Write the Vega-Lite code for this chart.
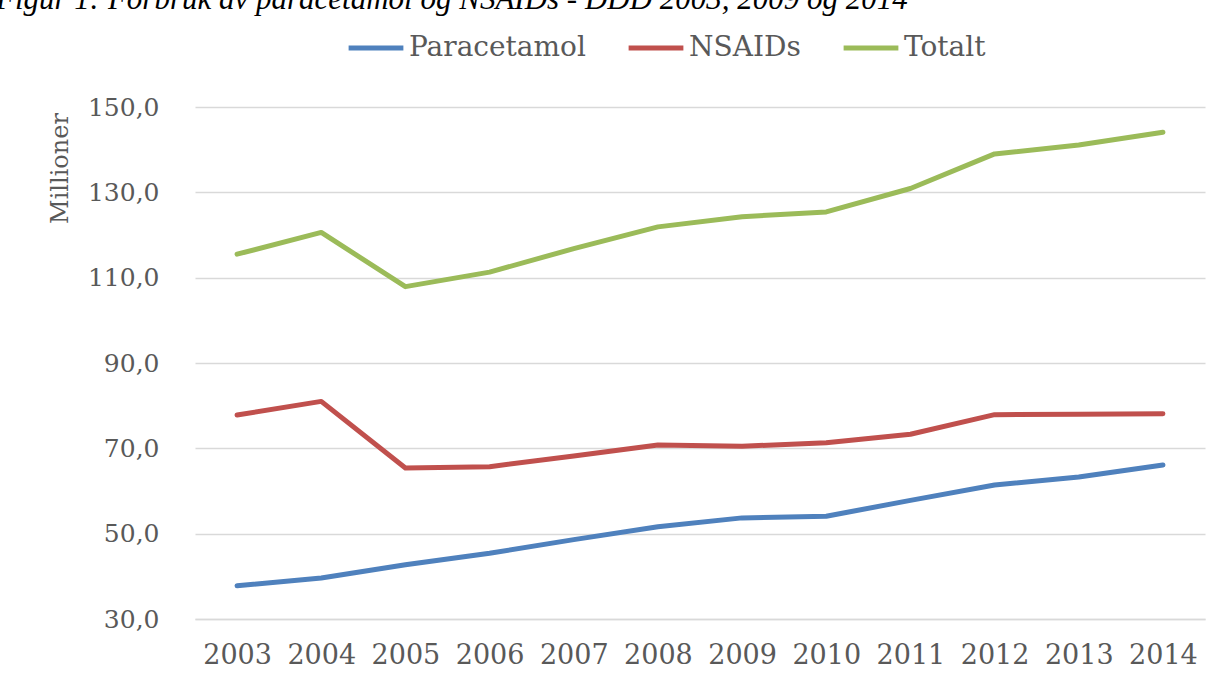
{
  "$schema": "https://vega.github.io/schema/vega-lite/v6.json",
  "width": 1010,
  "height": 512,
  "autosize": {"type": "none"},
  "padding": {"left": 195, "top": 107, "right": 24, "bottom": 60},
  "background": "white",
  "title": {
    "text": "Figur 1: Forbruk av paracetamol og NSAIDs - DDD 2003, 2009 og 2014",
    "anchor": "start",
    "frame": "group",
    "font": "Liberation Serif",
    "fontStyle": "italic",
    "fontWeight": "normal",
    "fontSize": 31,
    "color": "#000000",
    "baseline": "alphabetic",
    "orient": "top",
    "offset": -22,
    "dx": -199
  },
  "data": {
    "values": [
      {"year": "2003", "serie": "Paracetamol", "value": 37.8},
      {"year": "2004", "serie": "Paracetamol", "value": 39.6},
      {"year": "2005", "serie": "Paracetamol", "value": 42.7},
      {"year": "2006", "serie": "Paracetamol", "value": 45.4},
      {"year": "2007", "serie": "Paracetamol", "value": 48.6},
      {"year": "2008", "serie": "Paracetamol", "value": 51.6},
      {"year": "2009", "serie": "Paracetamol", "value": 53.7},
      {"year": "2010", "serie": "Paracetamol", "value": 54.1},
      {"year": "2011", "serie": "Paracetamol", "value": 57.8},
      {"year": "2012", "serie": "Paracetamol", "value": 61.4},
      {"year": "2013", "serie": "Paracetamol", "value": 63.3},
      {"year": "2014", "serie": "Paracetamol", "value": 66.1},
      {"year": "2003", "serie": "NSAIDs", "value": 77.8},
      {"year": "2004", "serie": "NSAIDs", "value": 81.0},
      {"year": "2005", "serie": "NSAIDs", "value": 65.4},
      {"year": "2006", "serie": "NSAIDs", "value": 65.7},
      {"year": "2007", "serie": "NSAIDs", "value": 68.2},
      {"year": "2008", "serie": "NSAIDs", "value": 70.8},
      {"year": "2009", "serie": "NSAIDs", "value": 70.5},
      {"year": "2010", "serie": "NSAIDs", "value": 71.3},
      {"year": "2011", "serie": "NSAIDs", "value": 73.3},
      {"year": "2012", "serie": "NSAIDs", "value": 77.9},
      {"year": "2013", "serie": "NSAIDs", "value": 78.0},
      {"year": "2014", "serie": "NSAIDs", "value": 78.1},
      {"year": "2003", "serie": "Totalt", "value": 115.5},
      {"year": "2004", "serie": "Totalt", "value": 120.6},
      {"year": "2005", "serie": "Totalt", "value": 107.9},
      {"year": "2006", "serie": "Totalt", "value": 111.3},
      {"year": "2007", "serie": "Totalt", "value": 116.8},
      {"year": "2008", "serie": "Totalt", "value": 121.9},
      {"year": "2009", "serie": "Totalt", "value": 124.3},
      {"year": "2010", "serie": "Totalt", "value": 125.4},
      {"year": "2011", "serie": "Totalt", "value": 130.9},
      {"year": "2012", "serie": "Totalt", "value": 139.0},
      {"year": "2013", "serie": "Totalt", "value": 141.1},
      {"year": "2014", "serie": "Totalt", "value": 144.1}
    ]
  },
  "mark": {"type": "line", "strokeWidth": 5, "strokeCap": "round", "strokeJoin": "round"},
  "encoding": {
    "x": {
      "field": "year",
      "type": "ordinal",
      "scale": {"type": "point", "padding": 0.5},
      "axis": {
        "title": null,
        "labelAngle": 0,
        "labelFont": "DejaVu Serif",
        "labelFontSize": 27,
        "labelColor": "#595959",
        "labelPadding": 23,
        "ticks": false,
        "domain": true,
        "domainColor": "#d9d9d9",
        "domainWidth": 1.5,
        "grid": false
      }
    },
    "y": {
      "field": "value",
      "type": "quantitative",
      "scale": {"domain": [30, 150], "nice": false, "zero": false},
      "axis": {
        "title": "Millioner",
        "titleFont": "DejaVu Serif",
        "titleFontSize": 24,
        "titleFontWeight": "normal",
        "titleColor": "#595959",
        "titleX": -135,
        "titleY": 61,
        "titleAlign": "center",
        "titleBaseline": "middle",
        "values": [30, 50, 70, 90, 110, 130, 150],
        "labelExpr": "replace(format(datum.value, '.1f'), '.', ',')",
        "labelFont": "DejaVu Serif",
        "labelFontSize": 25,
        "labelColor": "#595959",
        "labelPadding": 36,
        "ticks": false,
        "domain": false,
        "grid": true,
        "gridColor": "#d9d9d9",
        "gridWidth": 1.5
      }
    },
    "color": {
      "field": "serie",
      "type": "nominal",
      "sort": ["Paracetamol", "NSAIDs", "Totalt"],
      "scale": {"domain": ["Paracetamol", "NSAIDs", "Totalt"], "range": ["#4f81bd", "#c0504d", "#9bbb59"]},
      "legend": {
        "title": null,
        "orient": "none",
        "direction": "horizontal",
        "legendX": 151,
        "legendY": -89,
        "symbolType": "stroke",
        "symbolSize": 3000,
        "symbolStrokeWidth": 5,
        "labelFont": "DejaVu Serif",
        "labelFontSize": 28,
        "labelColor": "#595959",
        "labelOffset": 3,
        "columnPadding": 32,
        "labelLimit": 400
      }
    }
  },
  "config": {
    "view": {"stroke": null}
  }
}
